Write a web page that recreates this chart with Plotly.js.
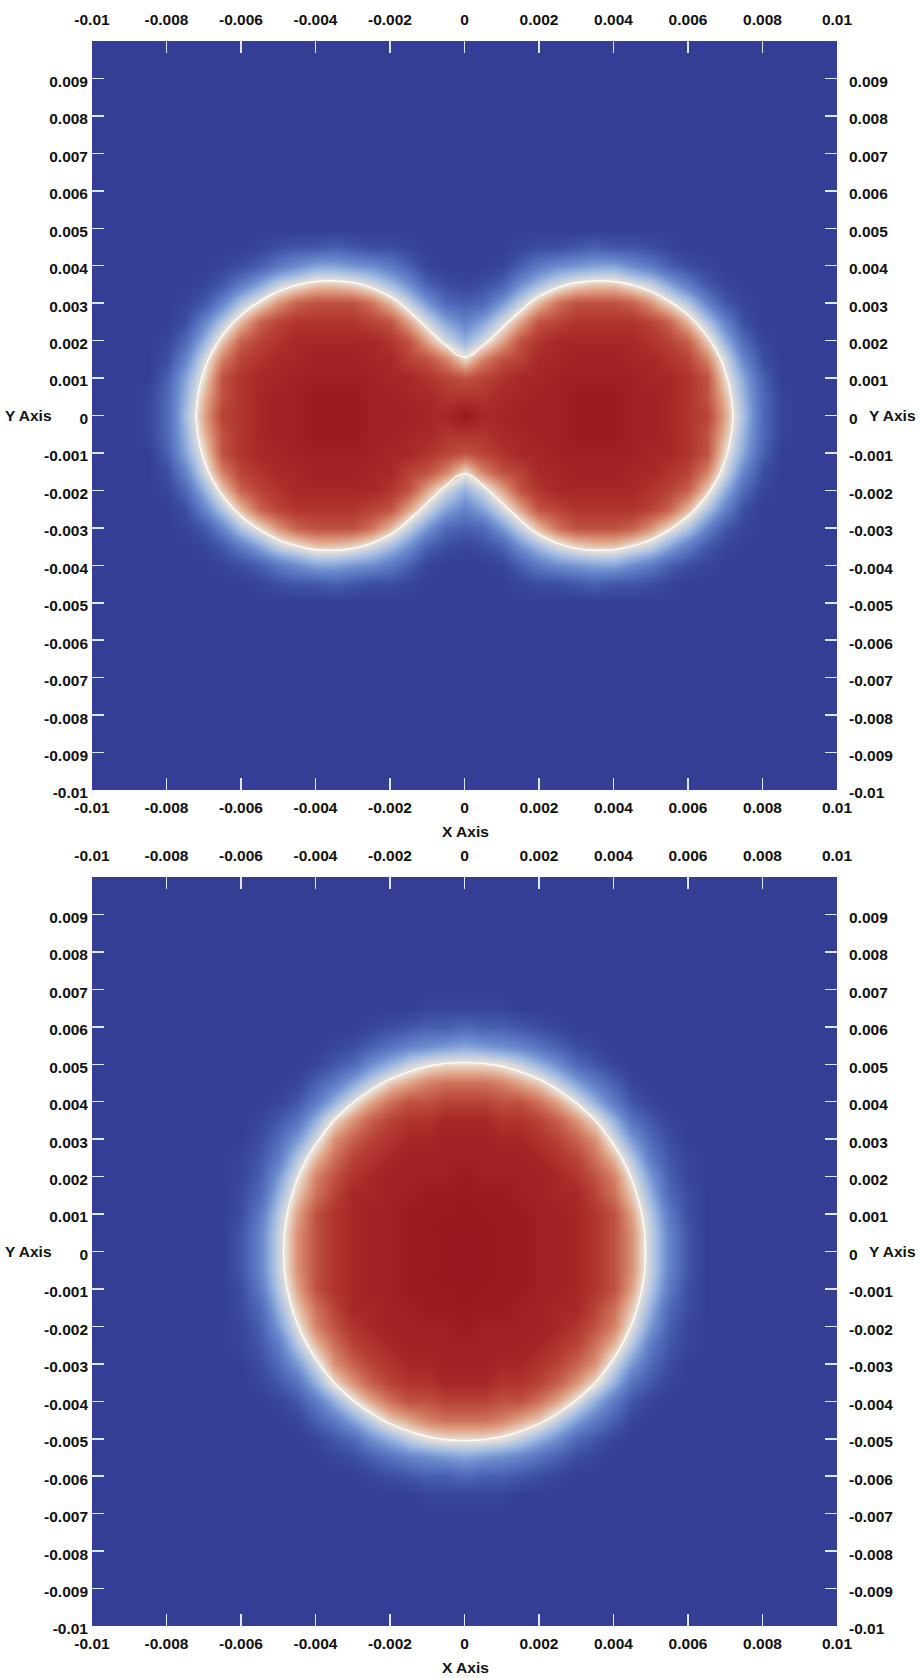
<!DOCTYPE html>
<html>
<head>
<meta charset="utf-8">
<script src="https://cdn.plot.ly/plotly-3.0.1.min.js"></script>
<style>
  html, body { margin: 0; padding: 0; background: #ffffff; }
  #chart { width: 919px; height: 1678px; }
</style>
</head>
<body>
<div id="chart"></div>
<script>
// ---------------- data ----------------
// sample positions of the field grid (both axes), step 0.0005
const gridCoords = [-0.01,-0.0095,-0.009,-0.0085,-0.008,-0.0075,-0.007,-0.0065,-0.006,-0.0055,
  -0.005,-0.0045,-0.004,-0.0035,-0.003,-0.0025,-0.002,-0.0015,-0.001,-0.0005,0,
  0.0005,0.001,0.0015,0.002,0.0025,0.003,0.0035,0.004,0.0045,0.005,
  0.0055,0.006,0.0065,0.007,0.0075,0.008,0.0085,0.009,0.0095,0.01];

const xTickValues = [-0.01,-0.008,-0.006,-0.004,-0.002,0,0.002,0.004,0.006,0.008,0.01];
const xTickLabels = ['-0.01','-0.008','-0.006','-0.004','-0.002','0','0.002','0.004','0.006','0.008','0.01'];
const yTickValues = [-0.01,-0.009,-0.008,-0.007,-0.006,-0.005,-0.004,-0.003,-0.002,-0.001,0,
  0.001,0.002,0.003,0.004,0.005,0.006,0.007,0.008,0.009];
const yTickLabels = ['-0.01','-0.009','-0.008','-0.007','-0.006','-0.005','-0.004','-0.003','-0.002','-0.001','0',
  '0.001','0.002','0.003','0.004','0.005','0.006','0.007','0.008','0.009'];

// field levels 0..35 (one base-36 character per sample), quadrant x>=0, y>=0;
// row index = y step from 0, character index = x step from 0. Field is symmetric in x and y.
const topQuadrantRows = [
  'vttuuuvvvuutsrld51000',
  'ssttuuvvvuutsqkc51000',
  'qrsttuuuuuttsqib40000',
  'inqrttuuuttsrng820000',
  'cglqstttttsrpjc510000',
  '8bglqrssssrpke8200000',
  '45afkoqqqpmie83100000',
  '1249dgijjhfb731000000',
  '001479abb974210000000',
  '000122343321000000000',
  '000000000000000000000',
  '000000000000000000000',
  '000000000000000000000',
  '000000000000000000000',
  '000000000000000000000',
  '000000000000000000000',
  '000000000000000000000',
  '000000000000000000000',
  '000000000000000000000',
  '000000000000000000000',
  '000000000000000000000'
];
const bottomQuadrantRows = [
  'wwvvuutsqmf8300000000',
  'wwvvuutsqmf8300000000',
  'wvvvuutsqle7200000000',
  'vvvuuttrojc5200000000',
  'vuuuutsqnha4100000000',
  'uuuutsroke73100000000',
  'uuttsrpmga52000000000',
  'ttssrpmic631000000000',
  'rrqqolhc7310000000000',
  'oonljfb74100000000000',
  'iihfc9531000000000000',
  'ba9864210000000000000',
  '544321000000000000000',
  '111000000000000000000',
  '000000000000000000000',
  '000000000000000000000',
  '000000000000000000000',
  '000000000000000000000',
  '000000000000000000000',
  '000000000000000000000',
  '000000000000000000000'
];
const levelMax = 35;

// white interface line, points read in the quadrant x>=0, y>=0 (from the y axis to the x axis)
const topInterfaceX = [0, 0.00012, 0.00024, 0.00045, 0.00068, 0.001, 0.0014, 0.0018, 0.0022, 0.0026, 0.003, 0.0036,
  0.0042, 0.0047, 0.0052, 0.0057, 0.0062, 0.0066, 0.0069, 0.0071, 0.0072];
const topInterfaceY = [0.00156, 0.00158, 0.00164, 0.00183, 0.00203, 0.00233, 0.0027, 0.00305, 0.00328, 0.00345, 0.00355, 0.0036,
  0.00355, 0.00343, 0.00322, 0.00292, 0.00249, 0.00199, 0.00144, 0.00084, 0];
const bottomInterfaceX = [0, 0.000844, 0.001662, 0.00243, 0.003124, 0.003723, 0.004209, 0.004567, 0.004786, 0.00486];
const bottomInterfaceY = [0.00505, 0.004973, 0.004745, 0.004373, 0.003868, 0.003246, 0.002525, 0.001727, 0.000877, 0];

// ---------------- build tables from the data ----------------
function expandQuadrant(rows) {
  const n = gridCoords.length, mid = (n - 1) / 2, z = [];
  for (let r = 0; r < n; r++) {
    const qr = rows[Math.abs(r - mid)];
    const row = [];
    for (let c = 0; c < n; c++) {
      const ch = qr.charAt(Math.abs(c - mid)) || '0';
      row.push(parseInt(ch, 36));
    }
    z.push(row);
  }
  return z;
}
// close a quadrant outline (running from the y axis to the x axis) by symmetry
function closeOutline(qx, qy) {
  const X = [], Y = [], n = qx.length;
  for (let i = 0; i < n; i++) { X.push(qx[i]); Y.push(qy[i]); }
  for (let i = n - 2; i >= 0; i--) { X.push(qx[i]); Y.push(-qy[i]); }
  for (let i = 1; i < n; i++) { X.push(-qx[i]); Y.push(-qy[i]); }
  for (let i = n - 2; i >= 0; i--) { X.push(-qx[i]); Y.push(qy[i]); }
  return { x: X, y: Y };
}
const zTop = expandQuadrant(topQuadrantRows);
const zBottom = expandQuadrant(bottomQuadrantRows);
const topLine = closeOutline(topInterfaceX, topInterfaceY);
const bottomLine = closeOutline(bottomInterfaceX, bottomInterfaceY);

const colorscale = [
  [0.000, 'rgb(52,62,148)'],
  [0.057, 'rgb(60,76,160)'],
  [0.143, 'rgb(80,104,184)'],
  [0.257, 'rgb(108,140,206)'],
  [0.371, 'rgb(164,188,226)'],
  [0.500, 'rgb(234,228,218)'],
  [0.600, 'rgb(224,164,136)'],
  [0.686, 'rgb(205,112,88)'],
  [0.771, 'rgb(184,66,54)'],
  [0.829, 'rgb(167,38,39)'],
  [0.886, 'rgb(156,25,32)'],
  [0.943, 'rgb(148,19,30)'],
  [1.000, 'rgb(138,14,27)']
];

function panelTraces(z, line, xa, ya, xTop, yRight) {
  return [
    { type: 'heatmap', x: gridCoords, y: gridCoords, z: z, xaxis: xa, yaxis: ya,
      zmin: 0, zmax: levelMax, zsmooth: 'best', colorscale: colorscale,
      showscale: false, hoverinfo: 'skip' },
    { type: 'scatter', mode: 'lines', x: line.x, y: line.y, xaxis: xTop, yaxis: ya,
      line: { color: '#fdfbf6', width: 1.4, shape: 'spline', smoothing: 1 },
      hoverinfo: 'skip', cliponaxis: true },
    { type: 'scatter', mode: 'markers', x: [], y: [], xaxis: xa, yaxis: yRight,
      hoverinfo: 'skip' }
  ];
}

// ---------------- layout ----------------
const W = 919, H = 1678;
const fontTick = { family: '"Liberation Sans", Arial, sans-serif', size: 15.5, color: '#111111', weight: 700 };
const xDomain = [92 / W, 837 / W];
const topYDomain = [1 - 790 / H, 1 - 41 / H];
const botYDomain = [1 - 1626 / H, 1 - 877 / H];
const range = [-0.01, 0.01];
const tickColor = 'rgba(236,238,246,0.95)';

function xAxis(extra) {
  return Object.assign({
    range: range, autorange: false, tickmode: 'array',
    tickvals: xTickValues, ticktext: xTickLabels,
    ticks: 'inside', ticklen: 12, tickwidth: 1.5, tickcolor: tickColor,
    showgrid: false, zeroline: false, showline: false,
    tickfont: fontTick, fixedrange: true
  }, extra);
}
function yAxis(extra) {
  return Object.assign({
    range: range, autorange: false, tickmode: 'array',
    tickvals: yTickValues, ticktext: yTickLabels,
    ticks: 'inside', ticklen: 12, tickwidth: 1.5, tickcolor: tickColor,
    showgrid: false, zeroline: false, showline: false,
    tickfont: fontTick, fixedrange: true, ticklabelshift: 3
  }, extra);
}

const annFont = { family: '"Liberation Sans", Arial, sans-serif', size: 15.5, color: '#111111', weight: 700 };
function ann(text, px, py, xanchor) {
  return { text: text, xref: 'paper', yref: 'paper', x: px / W, y: 1 - py / H,
    xanchor: xanchor, yanchor: 'middle', showarrow: false, font: annFont };
}

const layout = {
  width: W, height: H,
  margin: { l: 0, r: 0, t: 0, b: 0 },
  paper_bgcolor: '#ffffff',
  plot_bgcolor: 'rgb(52,62,148)',
  showlegend: false,
  xaxis:  xAxis({ domain: xDomain, anchor: 'y', side: 'bottom', ticklabelstandoff: 6 }),
  yaxis:  yAxis({ domain: topYDomain, anchor: 'x', side: 'left', ticklabelstandoff: 3 }),
  xaxis3: xAxis({ overlaying: 'x', anchor: 'y', side: 'top', ticklabelstandoff: 12 }),
  yaxis3: yAxis({ overlaying: 'y', anchor: 'x', side: 'right', ticklabelstandoff: 11 }),
  xaxis2: xAxis({ domain: xDomain, anchor: 'y2', side: 'bottom', ticklabelstandoff: 6 }),
  yaxis2: yAxis({ domain: botYDomain, anchor: 'x2', side: 'left', ticklabelstandoff: 3 }),
  xaxis4: xAxis({ overlaying: 'x2', anchor: 'y2', side: 'top', ticklabelstandoff: 12 }),
  yaxis4: yAxis({ overlaying: 'y2', anchor: 'x2', side: 'right', ticklabelstandoff: 11 }),
  annotations: [
    ann('X Axis', 465, 831, 'center'),
    ann('X Axis', 465, 1667, 'center'),
    ann('Y Axis', 54, 415.5, 'right'),
    ann('Y Axis', 917.5, 415.5, 'right'),
    ann('Y Axis', 54, 1251.5, 'right'),
    ann('Y Axis', 917.5, 1251.5, 'right')
  ]
};

const data = [].concat(
  panelTraces(zTop, topLine, 'x', 'y', 'x3', 'y3'),
  panelTraces(zBottom, bottomLine, 'x2', 'y2', 'x4', 'y4')
);

Plotly.newPlot('chart', data, layout, { staticPlot: true, displayModeBar: false });
</script>
</body>
</html>
